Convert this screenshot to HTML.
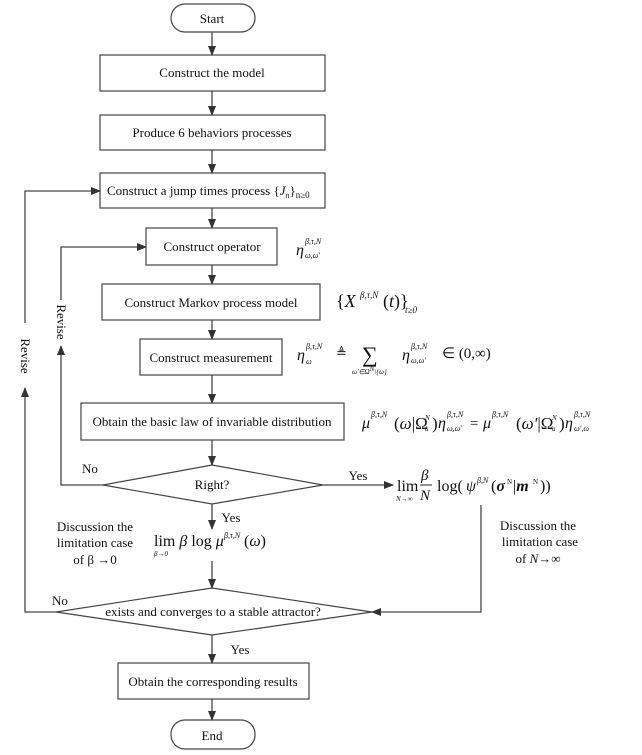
<!DOCTYPE html>
<html><head><meta charset="utf-8"><style>
body{margin:0;background:#fff}
svg{display:block}
text{font-family:"Liberation Serif",serif;fill:#111}
</style></head><body>
<svg width="642" height="755" viewBox="0 0 642 755" xmlns="http://www.w3.org/2000/svg">
<defs><marker id="a" markerWidth="10" markerHeight="10" refX="9" refY="5" orient="auto" markerUnits="userSpaceOnUse"><path d="M0,1 L10,5 L0,9 Z" fill="#333"/></marker></defs>
<g fill="none" stroke="#444" stroke-width="1.2">
<rect x="171" y="4" width="84" height="28" rx="14"/>
<rect x="100" y="55" width="225" height="36"/>
<rect x="100" y="115" width="225" height="35"/>
<rect x="100" y="173" width="225" height="35"/>
<rect x="146" y="228" width="131" height="37"/>
<rect x="102" y="284" width="218" height="36"/>
<rect x="140" y="339" width="142" height="36"/>
<rect x="81" y="403" width="263" height="37"/>
<polygon points="103,485 212,465 323,485 212,504"/>
<polygon points="56,612 212,588 372,612 212,635"/>
<rect x="118" y="663" width="191" height="36"/>
<rect x="171" y="720" width="84" height="29" rx="14"/>
</g>
<g stroke="#444" stroke-width="1.3" fill="none" marker-end="url(#a)">
<line x1="212" y1="32" x2="212" y2="55"/>
<line x1="212" y1="91" x2="212" y2="115"/>
<line x1="212" y1="150" x2="212" y2="173"/>
<line x1="212" y1="208" x2="212" y2="228"/>
<line x1="212" y1="265" x2="212" y2="284"/>
<line x1="212" y1="320" x2="212" y2="339"/>
<line x1="212" y1="375" x2="212" y2="403"/>
<line x1="212" y1="440" x2="212" y2="465"/>
<line x1="212" y1="504" x2="212" y2="529"/>
<line x1="212" y1="561" x2="212" y2="588"/>
<line x1="212" y1="635" x2="212" y2="663"/>
<line x1="212" y1="699" x2="212" y2="720"/>
<line x1="323" y1="485" x2="393" y2="485"/>
<polyline points="481,505 481,612 372,612"/>
<polyline points="103,485 61,485 61,346"/>
<polyline points="61,300 61,247 146,247"/>
<polyline points="56,612 25,612 25,388"/>
<polyline points="25,323 25,191 100,191"/>
</g>
<g font-size="13" text-anchor="middle">
<text x="212" y="23">Start</text>
<text x="212" y="77">Construct the model</text>
<text x="212" y="137">Produce 6 behaviors processes</text>
<text x="212" y="251">Construct operator</text>
<text x="211" y="307">Construct Markov process model</text>
<text x="211" y="362">Construct measurement</text>
<text x="212" y="426">Obtain the basic law of invariable distribution</text>
<text x="212" y="489">Right?</text>
<text x="213" y="616">exists and converges to a stable attractor?</text>
<text x="213" y="686">Obtain the corresponding results</text>
<text x="212" y="740">End</text>
<text x="90" y="473">No</text>
<text x="358" y="480">Yes</text>
<text x="231" y="522">Yes</text>
<text x="60" y="605">No</text>
<text x="240" y="654">Yes</text>
<text x="95" y="531">Discussion the</text>
<text x="95" y="547">limitation case</text>
<text x="95" y="564">of  β →0</text>
<text x="538" y="530">Discussion the</text>
<text x="540" y="546">limitation  case</text>
<text x="538" y="563">of <tspan font-style="italic">N</tspan>→∞</text>
<text transform="translate(57,322) rotate(90)">Revise</text>
<text transform="translate(21,356) rotate(90)">Revise</text>
</g>
<text x="107" y="195" font-size="13">Construct a jump times process {<tspan font-style="italic">J</tspan><tspan font-size="8" font-style="italic" dy="3">n</tspan><tspan dy="-3">}</tspan><tspan font-size="9" dy="3">n≥0</tspan></text>
<g font-style="italic">
<!-- operator eta -->
<text x="296" y="255" font-size="16">η</text>
<text x="305" y="244" font-size="8">β,τ,N</text>
<text x="305" y="258" font-size="8">ω,ω'</text>
<!-- Markov -->
<text x="336" y="307" font-size="18" font-style="normal">{<tspan font-style="italic">X</tspan></text>
<text x="360" y="298" font-size="9">β,τ,N</text>
<text x="383" y="307" font-size="18" font-style="normal">(<tspan font-style="italic">t</tspan>)}</text>
<text x="405" y="313" font-size="9">t≥0</text>
<!-- measurement -->
<text x="297" y="360" font-size="16">η</text>
<text x="306" y="349" font-size="8">β,τ,N</text>
<text x="306" y="364" font-size="8">ω</text>
<text x="336" y="357" font-size="13" font-style="normal">≜</text>
<text x="362" y="362" font-size="22" font-style="normal">∑</text>
<text x="352" y="374" font-size="7">ω'∈Ω<tspan dy="-3">N</tspan><tspan dy="3">\{ω}</tspan></text>
<text x="402" y="360" font-size="16">η</text>
<text x="411" y="349" font-size="8">β,τ,N</text>
<text x="411" y="363" font-size="8">ω,ω'</text>
<text x="442" y="358" font-size="15" font-style="normal">∈ (0,∞)</text>
<!-- invariant law -->
<text x="362" y="428" font-size="16">μ</text>
<text x="371" y="417" font-size="8">β,τ,N</text>
<text x="394" y="429" font-size="17" font-style="normal">(<tspan font-style="italic">ω</tspan>|Ω</text>
<text x="425" y="420" font-size="7">N</text>
<text x="425" y="431" font-size="7">a</text>
<text x="432" y="429" font-size="17" font-style="normal">)</text>
<text x="438" y="428" font-size="16">η</text>
<text x="447" y="417" font-size="8">β,τ,N</text>
<text x="447" y="431" font-size="8">ω,ω'</text>
<text x="470" y="428" font-size="15" font-style="normal">=</text>
<text x="483" y="428" font-size="16">μ</text>
<text x="492" y="417" font-size="8">β,τ,N</text>
<text x="516" y="429" font-size="17" font-style="normal">(<tspan font-style="italic">ω'</tspan>|Ω</text>
<text x="552" y="420" font-size="7">N</text>
<text x="552" y="431" font-size="7">a</text>
<text x="559" y="429" font-size="17" font-style="normal">)</text>
<text x="565" y="428" font-size="16">η</text>
<text x="574" y="417" font-size="8">β,τ,N</text>
<text x="574" y="431" font-size="8">ω',ω</text>
<!-- lim N -->
<text x="397" y="491" font-size="16" font-style="normal">lim</text>
<text x="396" y="501" font-size="7">N→∞</text>
<text x="421" y="480" font-size="15">β</text>
<line x1="420" y1="485" x2="432" y2="485" stroke="#222" stroke-width="1"/>
<text x="420" y="500" font-size="15">N</text>
<text x="437" y="491" font-size="16" font-style="normal">log(</text>
<text x="466" y="491" font-size="16">ψ</text>
<text x="477" y="483" font-size="8">β,N</text>
<text x="491" y="491" font-size="16" font-style="normal">(<tspan font-weight="bold" font-style="italic">σ</tspan></text>
<text x="507" y="484" font-size="7" font-style="normal">N</text>
<text x="513" y="491" font-size="16" font-style="normal">|<tspan font-weight="bold" font-style="italic">m</tspan></text>
<text x="533" y="484" font-size="7" font-style="normal">N</text>
<text x="540" y="491" font-size="16" font-style="normal">))</text>
<!-- lim beta -->
<text x="154" y="546" font-size="16" font-style="normal">lim <tspan font-style="italic">β</tspan> log <tspan font-style="italic">μ</tspan></text>
<text x="224" y="538" font-size="8">β,τ,N</text>
<text x="244" y="546" font-size="16" font-style="normal">(<tspan font-style="italic">ω</tspan>)</text>
<text x="154" y="556" font-size="7">β→0</text>
</g>
</svg>
</body></html>
